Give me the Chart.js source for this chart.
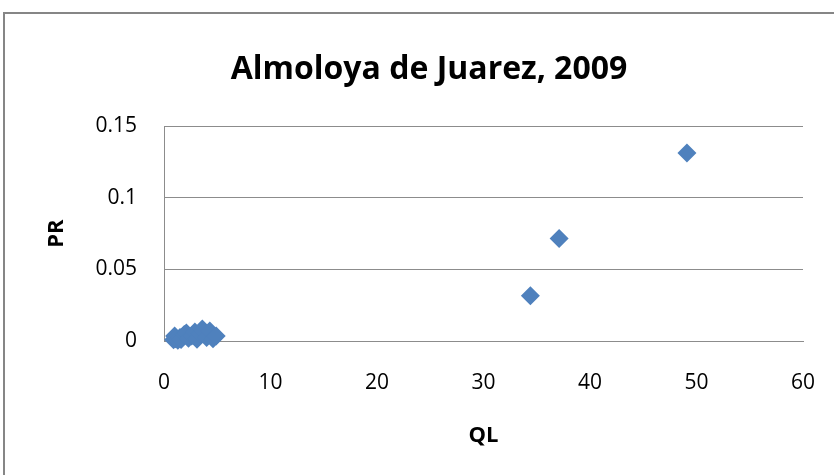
<!DOCTYPE html>
<html>
<head>
<meta charset="utf-8">
<script src="https://cdn.jsdelivr.net/npm/chart.js@4.4.0/dist/chart.umd.min.js"></script>
<style>
  html, body { margin: 0; padding: 0; background: #fff; }
  #wrap { position: relative; width: 834px; height: 475px; overflow: hidden; }
  #frame {
    position: absolute; left: 3px; top: 12px; width: 900px; height: 600px;
    border-top: 2px solid #868686; border-left: 2px solid #868686;
  }
  #chart { position: absolute; left: 0; top: 0; }
</style>
</head>
<body>
<div id="wrap">
  <div id="frame"></div>
  <canvas id="chart" width="834" height="475"></canvas>
</div>
<script>
/* -------------------- DATA -------------------- */
const qlValues = [0.9, 1.0, 1.1, 1.3, 1.5, 1.6, 1.9, 2.1, 2.3, 2.6, 2.9, 3.1, 3.4, 3.6, 4.0, 4.3, 4.6, 4.9, 34.4, 37.1, 49.1];
const prValues = [0.0008, 0.0035, 0.0015, 0.0005, 0.0025, 0.001, 0.0045, 0.0056, 0.002, 0.0035, 0.0063, 0.0012, 0.005, 0.0084, 0.0025, 0.007, 0.0015, 0.0035, 0.0316, 0.0717, 0.1314];
const xTicks = [0, 10, 20, 30, 40, 50, 60];
const yTicks = [0, 0.05, 0.1, 0.15];

const FONT = "'Open Sans', 'DejaVu Sans', sans-serif";
const GRID = "#8c8c8c";

/* -------------------- CHART -------------------- */
const points = qlValues.map((x, i) => ({ x: x, y: prValues[i] }));

new Chart(document.getElementById("chart"), {
  type: "scatter",
  data: {
    datasets: [{
      data: points,
      pointStyle: "rectRot",
      pointRadius: 9.5,
      pointBorderWidth: 0,
      backgroundColor: "#4f81bd",
      borderColor: "#4f81bd",
      clip: false
    }]
  },
  options: {
    responsive: false,
    animation: false,
    layout: { padding: { left: 55, right: 31, top: 0, bottom: 0 } },
    plugins: {
      legend: { display: false },
      tooltip: { enabled: false },
      title: {
        display: true,
        text: "Almoloya de Juarez, 2009",
        color: "#000",
        font: { family: FONT, size: 32, weight: "bold" },
        padding: { top: 51, bottom: 37 }
      }
    },
    scales: {
      x: {
        type: "linear",
        min: 0,
        max: 60,
        afterBuildTicks: s => { s.ticks = xTicks.map(v => ({ value: v })); },
        afterFit: s => { s.height = 134; s.paddingLeft = 0; s.paddingRight = 0; },
        grid: { display: false, drawTicks: false },
        border: { display: true, color: GRID, width: 1 },
        ticks: {
          color: "#000",
          padding: 29,
          maxRotation: 0,
          font: { family: FONT, size: 21 },
          callback: v => String(v)
        },
        title: {
          display: true,
          text: "QL",
          color: "#000",
          font: { family: FONT, size: 22, weight: "bold" },
          padding: { top: 0, bottom: 26 }
        }
      },
      y: {
        type: "linear",
        min: 0,
        max: 0.15,
        afterBuildTicks: s => { s.ticks = yTicks.map(v => ({ value: v })); },
        afterFit: s => { s.width = 109; },
        grid: { color: GRID, lineWidth: 1, drawTicks: false },
        border: { display: true, color: GRID, width: 1 },
        ticks: {
          color: "#000",
          padding: 27,
          font: { family: FONT, size: 21 },
          callback: v => String(v)
        },
        title: {
          display: true,
          text: "PR",
          color: "#000",
          font: { family: FONT, size: 22, weight: "bold", lineHeight: 1 },
          padding: { top: -9, bottom: 0 }
        }
      }
    }
  }
});
</script>
</body>
</html>
